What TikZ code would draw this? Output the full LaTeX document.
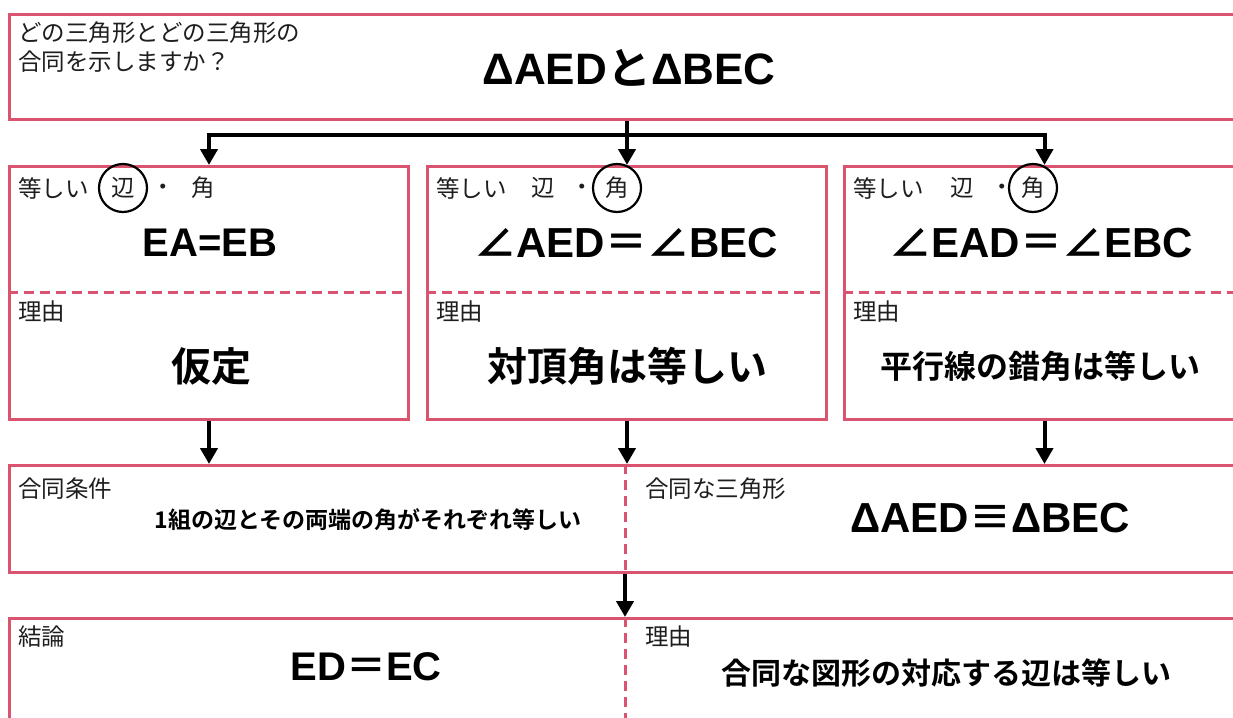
\documentclass[tikz,border=0pt]{standalone}
\usepackage{fontspec}
\setmainfont{Noto Sans CJK JP}[BoldFont={* Bold}]
\newfontfamily\lat{Liberation Sans}
\usetikzlibrary{arrows.meta}
\definecolor{boxred}{RGB}{218,84,112}
\definecolor{ink}{RGB}{30,30,30}
\newcommand{\La}[1]{{\lat\bfseries #1}}
\begin{document}
\begin{tikzpicture}[x=1pt,y=-1pt,
  box/.style={draw=boxred, line width=3pt, rectangle, anchor=north west, inner sep=0pt},
  lab/.style={anchor=west, font=\fontsize{23.5}{24}\selectfont, text=ink, inner sep=0pt},
  sm/.style={font=\fontsize{23.5}{24}\selectfont, text=ink, inner sep=0pt},
  circ/.style={sm, draw=black, line width=2.2pt, circle, minimum size=48pt},
  big/.style={font=\fontsize{40}{40}\selectfont\bfseries, text=black, inner sep=0pt},
  mid/.style={font=\fontsize{23}{23}\selectfont\bfseries, text=black, inner sep=0pt},
  arr/.style={line width=4pt, -{Triangle[length=16pt,width=17pt]}},
  sep/.style={draw=boxred, line width=3pt, dash pattern=on 10pt off 6pt}]
\useasboundingbox (0,0) rectangle (1233,717);
\clip (0,0) rectangle (1233,717);
\fill[white] (0,0) rectangle (1233,717);
% boxes
\node[box, minimum width=1235pt, minimum height=105pt] (top) at (8,13) {};
\node[box, minimum width=399pt, minimum height=253pt] (bl) at (8,165) {};
\node[box, minimum width=399pt, minimum height=253pt] (bm) at (426,165) {};
\node[box, minimum width=400pt, minimum height=253pt] (br) at (843,165) {};
\node[box, minimum width=1235pt, minimum height=107pt] (cond) at (8,464) {};
\node[box, minimum width=1235pt, minimum height=140pt] (concl) at (8,617) {};
% separators
\coordinate (d2) at (0,292);
\coordinate (vx) at (625,0);
\draw[sep] (bl.west |- d2) -- (bl.east |- d2);
\draw[sep] (bm.west |- d2) -- (bm.east |- d2);
\draw[sep] (br.west |- d2) -- (br.east |- d2);
\draw[sep] (cond.north -| vx) -- (cond.south -| vx);
\draw[sep] (concl.north -| vx) -- (concl.south -| vx);
% connectors
\coordinate (j) at (0,135);
\draw[line width=4pt, line cap=rect] (bl.north |- j) -- (br.north |- j);
\draw[arr] (top.south -| bm.north) -- (bm.north);
\draw[arr] (bl.north |- j) -- (bl.north);
\draw[arr] (br.north |- j) -- (br.north);
\draw[arr] (bl.south) -- (bl.south |- cond.north);
\draw[arr] (bm.south) -- (bm.south |- cond.north);
\draw[arr] (br.south) -- (br.south |- cond.north);
\draw[arr] (cond.south -| vx) -- (concl.north -| vx);
% top texts
\node[lab] (q1) at (18,33) {どの三角形とどの三角形の};
\node[lab] (q2) at (18,62) {合同を示しますか？};
\node[big, font=\fontsize{44}{44}\selectfont\bfseries] (qa) at (629,68) {\La{ΔAED}と\La{ΔBEC}};
% left box
\node[lab] (l1) at (18,188) {等しい};
\node[circ] (l2) at (123,188) {辺};
\node[sm] (l3) at (163,190) {・};
\node[sm] (l4) at (203,188) {角};
\node[big] (lf) at (210,243) {\La{EA=EB}};
\node[lab] (lr) at (18,312) {理由};
\node[big] (lrt) at (211,366) {仮定};
% middle box
\node[lab] (m1) at (436,188) {等しい};
\node[sm] (m2) at (543,188) {辺};
\node[sm] (m3) at (582,190) {・};
\node[circ] (m4) at (617,188) {角};
\node[big, font=\fontsize{42}{42}\selectfont\bfseries] (mf) at (626,243) {∠\La{AED}＝∠\La{BEC}};
\node[lab] (mr) at (436,312) {理由};
\node[big] (mrt) at (627,366) {対頂角は等しい};
% right box
\node[lab] (r1) at (853,188) {等しい};
\node[sm] (r2) at (962,188) {辺};
\node[sm] (r3) at (1002,190) {・};
\node[circ] (r4) at (1033,188) {角};
\node[big, font=\fontsize{42}{42}\selectfont\bfseries] (rf) at (1041,243) {∠\La{EAD}＝∠\La{EBC}};
\node[lab] (rr) at (853,312) {理由};
\node[big, font=\fontsize{32}{32}\selectfont\bfseries] (rrt) at (1040,366) {平行線の錯角は等しい};
% row 3
\node[lab] (c1) at (18,489) {合同条件};
\node[mid] (c2) at (368,520) {1組の辺とその両端の角がそれぞれ等しい};
\node[lab] (c3) at (645,489) {合同な三角形};
\node[big, font=\fontsize{42}{42}\selectfont\bfseries] (c4) at (990,518) {\La{ΔAED}≡\La{ΔBEC}};
% row 4
\node[lab] (e1) at (18,637) {結論};
\node[big] (e2) at (366,667) {\La{ED}＝\La{EC}};
\node[lab] (e3) at (645,637) {理由};
\node[big, font=\fontsize{30}{30}\selectfont\bfseries] (e4) at (946,673) {合同な図形の対応する辺は等しい};
\end{tikzpicture}
\end{document}
